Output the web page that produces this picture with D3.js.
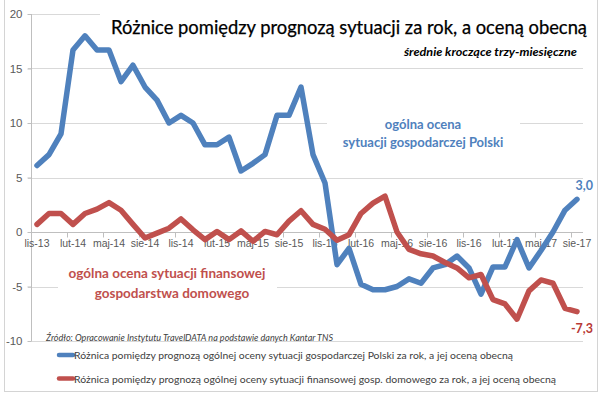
<!DOCTYPE html>
<html><head><meta charset="utf-8">
<script src="https://cdn.jsdelivr.net/npm/d3@7"></script>
<style>
html,body{margin:0;padding:0;background:#fff;}
svg{display:block;font-family:Lato,"Open Sans",sans-serif;}
</style></head>
<body><svg id="c" width="600" height="394"></svg>
<script>
const months = ["lis-13","gru-13","sty-14","lut-14","mar-14","kwi-14","maj-14","cze-14","lip-14","sie-14","wrz-14","paź-14",
"lis-14","gru-14","sty-15","lut-15","mar-15","kwi-15","maj-15","cze-15","lip-15","sie-15","wrz-15","paź-15",
"lis-15","gru-15","sty-16","lut-16","mar-16","kwi-16","maj-16","cze-16","lip-16","sie-16","wrz-16","paź-16",
"lis-16","gru-16","sty-17","lut-17","mar-17","kwi-17","maj-17","cze-17","lip-17","sie-17"];
const tickLabels = ["lis-13","lut-14","maj-14","sie-14","lis-14","lut-15","maj-15","sie-15","lis-15","lut-16","maj-16","sie-16","lis-16","lut-17","maj-17","sie-17"];
const yTicks = [20,15,10,5,0,-5,-10];
const polandEconomy = [6.1,7.1,9.0,16.7,18.0,16.7,16.7,13.8,15.3,13.3,12.1,10.0,
10.7,10.0,8.0,8.0,8.7,5.6,6.3,7.1,10.7,10.7,13.3,7.1,
4.5,-3.0,-1.5,-4.8,-5.3,-5.3,-5.0,-4.3,-4.7,-3.3,-3.0,-2.2,
-3.3,-5.7,-3.2,-3.2,-0.7,-3.3,-1.7,0.0,2.0,3.0];
const householdFinance = [0.7,1.7,1.7,0.7,1.7,2.1,2.7,2.0,0.7,-0.55,-0.1,0.35,
1.2,0.2,-0.7,0.05,-0.7,0.1,-0.85,0.05,-0.25,1.0,1.95,0.7,
0.25,-0.75,-0.25,1.7,2.65,3.3,0.0,-1.6,-2.0,-2.2,-2.8,-3.3,
-4.2,-3.9,-6.2,-6.6,-8.0,-5.4,-4.4,-4.7,-7.0,-7.3];
const seriesNames = ["Różnica pomiędzy prognozą ogólnej oceny sytuacji gospodarczej Polski za rok, a jej oceną obecną",
"Różnica pomiędzy prognozą ogólnej oceny sytuacji finansowej gosp. domowego za rok, a jej oceną obecną"];
const colors = ["#4f81bd","#c0504d"];

const svg = d3.select("#c");
// outer border
svg.append("rect").attr("x",4.5).attr("y",-1).attr("width",593).attr("height",392.5)
  .attr("fill","none").attr("stroke","#d4d4d4").attr("stroke-width",1);

const x = d3.scaleBand().domain(months).range([31,583]).padding(0);
const y = d3.scaleLinear().domain([-10,20]).range([341,14]);
const cx = d => x(d) + x.bandwidth()/2;
const fmt = v => d3.format(".1f")(v).replace(".",",").replace("\u2212","-");

// gridlines
svg.append("g").selectAll("line").data(yTicks.filter(v=>v!==0)).join("line")
  .attr("x1",28).attr("x2",583).attr("y1",d=>Math.round(y(d))+0.5).attr("y2",d=>Math.round(y(d))+0.5)
  .attr("stroke","#d9d9d9").attr("stroke-width",1);

// white text boxes (cover gridlines)
svg.append("rect").attr("x",100).attr("y",6).attr("width",495).attr("height",32).attr("fill","#fff");
svg.append("rect").attr("x",327).attr("y",106).attr("width",193).attr("height",48).attr("fill","#fff");
svg.append("rect").attr("x",58).attr("y",262).attr("width",219).attr("height",46).attr("fill","#fff");

// y axis
const yAxis = d3.axisLeft(y).tickValues(yTicks).tickSize(4).tickPadding(5).tickFormat(d=>String(d));
const gy = svg.append("g").attr("transform","translate(31.5,0)").call(yAxis);
gy.select(".domain").attr("stroke","#bfbfbf").attr("d","M0,"+y(20)+"V"+y(-10));
gy.selectAll(".tick line").attr("stroke","#bfbfbf");
gy.selectAll("text").attr("fill","#595959").attr("font-size",11.5).attr("x",-9);

// x axis at zero
const y0 = Math.round(y(0))+0.5;
const xAxis = d3.axisBottom(x).tickValues(tickLabels).tickSize(0).tickPadding(7);
const gx = svg.append("g").attr("transform","translate(0,"+y0+")").call(xAxis);
gx.select(".domain").attr("stroke","#bfbfbf").attr("d","M31,0H583");
gx.selectAll("text").attr("fill","#595959").attr("font-size",10.5);
// boundary tick marks every 3 categories
const bIdx = d3.range(0, months.length+1, 3);
gx.append("g").selectAll("line").data(bIdx).join("line")
  .attr("x1",i=>Math.round(31 + i*x.step())+0.5).attr("x2",i=>Math.round(31 + i*x.step())+0.5)
  .attr("y1",0).attr("y2",5).attr("stroke","#bfbfbf");

// lines
const line = d3.line().x((d,i)=>cx(months[i])).y(d=>y(d));
[polandEconomy, householdFinance].forEach((s,k)=>{
  svg.append("path").datum(s).attr("d",line).attr("fill","none")
    .attr("stroke",colors[k]).attr("stroke-width",5.5)
    .attr("stroke-linejoin","round").attr("stroke-linecap","round");
});

// title
svg.append("text").attr("x",111).attr("y",34).attr("font-size",18.5).attr("fill","#000")
  .attr("stroke","#000").attr("stroke-width",0.25)
  .attr("textLength",476).attr("lengthAdjust","spacingAndGlyphs")
  .text("Różnice pomiędzy prognozą sytuacji za rok, a oceną obecną");
svg.append("text").attr("x",577).attr("y",56).attr("text-anchor","end").attr("font-size",11)
  .attr("font-style","italic").attr("font-weight","bold").attr("fill","#000")
  .attr("textLength",173).attr("lengthAdjust","spacingAndGlyphs")
  .text("średnie kroczące trzy-miesięczne");

// annotations
const a1 = svg.append("text").attr("font-size",13).attr("font-weight","bold").attr("fill",colors[0]).attr("text-anchor","middle");
a1.append("tspan").attr("x",423).attr("y",129).text("ogólna ocena");
a1.append("tspan").attr("x",423).attr("y",147).text("sytuacji gospodarczej Polski");
const a2 = svg.append("text").attr("font-size",13.5).attr("font-weight","bold").attr("fill",colors[1]).attr("text-anchor","middle");
a2.append("tspan").attr("x",167).attr("y",278).text("ogólna ocena sytuacji finansowej");
a2.append("tspan").attr("x",172).attr("y",298).text("gospodarstwa domowego");

// value labels
const last = months.length-1;
svg.append("text").attr("x",593).attr("y",190).attr("text-anchor","end").attr("font-size",12.5)
  .attr("font-weight","bold").attr("fill",colors[0]).text(fmt(polandEconomy[last]));
svg.append("text").attr("x",593).attr("y",333).attr("text-anchor","end").attr("font-size",12.5)
  .attr("font-weight","bold").attr("fill","#b83a36").text(fmt(householdFinance[last]));

// source
svg.append("text").attr("x",46).attr("y",341).attr("font-size",9.5).attr("font-style","italic")
  .attr("fill","#404040").attr("textLength",287).attr("lengthAdjust","spacingAndGlyphs")
  .text("Źródło: Opracowanie Instytutu TravelDATA na podstawie danych Kantar TNS");

// legend
const lg = svg.append("g");
seriesNames.forEach((n,k)=>{
  const ly = k===0 ? 355 : 378.5;
  lg.append("line").attr("x1",59).attr("x2",73).attr("y1",ly).attr("y2",ly)
    .attr("stroke",colors[k]).attr("stroke-width",4.5).attr("stroke-linecap","round");
  lg.append("text").attr("x",74).attr("y",ly+4).attr("font-size",10.2).attr("fill","#404040")
    .attr("textLength", k===0 ? 439 : 482).attr("lengthAdjust","spacingAndGlyphs").text(n);
});
</script></body></html>
